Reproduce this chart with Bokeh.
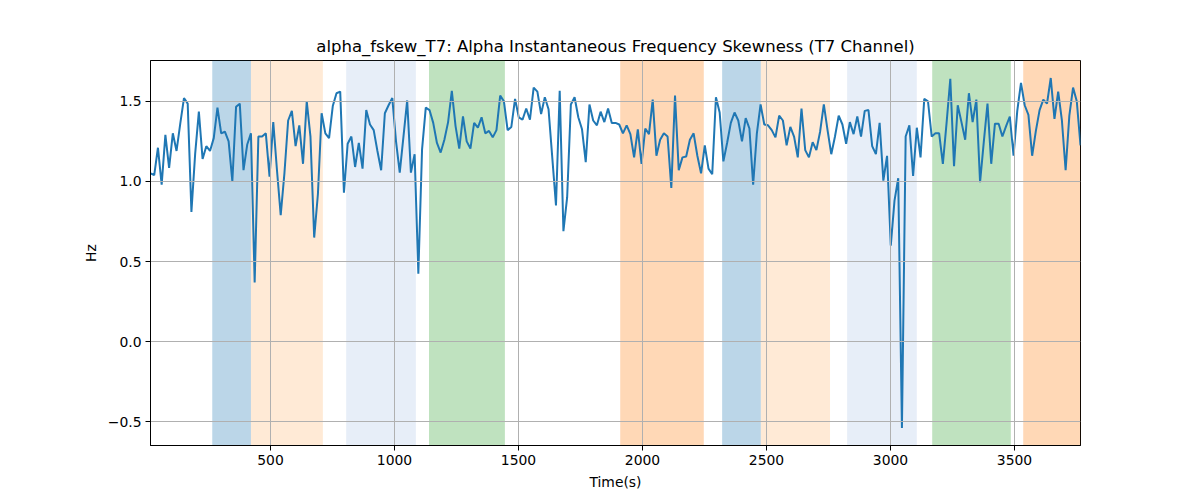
from bokeh.plotting import figure
from bokeh.models import BoxAnnotation, FixedTicker, Range1d, ColumnDataSource
from bokeh.embed import file_html
from bokeh.resources import INLINE

# ---- data ----
t_start = 16
t_step = 15
values = [
    1.05, 1.04, 1.21, 0.98, 1.29, 1.085, 1.30, 1.19, 1.36, 1.52,
    1.485, 0.81, 1.17, 1.435, 1.14, 1.22, 1.19, 1.27, 1.46, 1.30,
    1.31, 1.25, 1.00, 1.465, 1.485, 1.07, 1.23, 1.30, 0.37, 1.28,
    1.28, 1.30, 1.03, 1.37, 1.07, 0.79, 1.05, 1.38, 1.44, 1.22,
    1.35, 1.11, 1.50, 1.28, 0.65, 0.92, 1.425, 1.30, 1.27, 1.47,
    1.55, 1.56, 0.93, 1.235, 1.28, 1.09, 1.24, 1.08, 1.445, 1.355,
    1.32, 1.19, 1.07, 1.425, 1.475, 1.52, 1.25, 1.055, 1.28, 1.505,
    1.055, 1.17, 0.425, 1.20, 1.46, 1.445, 1.365, 1.24, 1.18, 1.26,
    1.37, 1.565, 1.345, 1.205, 1.405, 1.25, 1.205, 1.365, 1.335, 1.40,
    1.30, 1.315, 1.275, 1.32, 1.535, 1.50, 1.32, 1.34, 1.515, 1.40,
    1.385, 1.455, 1.385, 1.585, 1.56, 1.42, 1.525, 1.45, 1.15, 0.85,
    1.565, 0.69, 0.90, 1.48, 1.525, 1.40, 1.325, 1.12, 1.48, 1.38,
    1.35, 1.435, 1.37, 1.455, 1.365, 1.365, 1.355, 1.30, 1.35, 1.295,
    1.15, 1.325, 1.11, 1.33, 1.295, 1.51, 1.16, 1.26, 1.30, 1.28,
    0.96, 1.535, 1.07, 1.15, 1.155, 1.26, 1.30, 1.16, 1.05, 1.225,
    1.08, 1.045, 1.525, 1.43, 1.125, 1.24, 1.365, 1.43, 1.38, 1.25,
    1.395, 1.33, 0.98, 1.30, 1.48, 1.355, 1.35, 1.32, 1.275, 1.41,
    1.38, 1.225, 1.34, 1.28, 1.15, 1.455, 1.195, 1.15, 1.245, 1.195,
    1.31, 1.48, 1.32, 1.17, 1.28, 1.41, 1.355, 1.235, 1.37, 1.295,
    1.405, 1.28, 1.44, 1.445, 1.22, 1.17, 1.365, 1.005, 1.16, 0.60,
    0.88, 1.02, -0.5375, 1.28, 1.35, 1.035, 1.335, 1.15, 1.515, 1.50,
    1.28, 1.30, 1.30, 1.11, 1.365, 1.64, 1.095, 1.475, 1.37, 1.26,
    1.55, 1.37, 1.51, 0.995, 1.245, 1.485, 1.11, 1.36, 1.36, 1.28,
    1.345, 1.405, 1.16, 1.44, 1.615, 1.475, 1.415, 1.16, 1.315, 1.445,
    1.51, 1.485, 1.645, 1.39, 1.56, 1.38, 1.07, 1.41, 1.585, 1.50,
    1.225,
]
times = [t_start + t_step * i for i in range(len(values))]

band_starts = [265, 421, 805, 1139, 1910, 2321, 2477, 2825, 3168, 3535]
band_ends = [421, 711, 1086, 1445, 2247, 2477, 2756, 3106, 3485, 3766]
band_colors = ["#1f77b4", "#ffbb78", "#aec7e8", "#2ca02c", "#ff7f0e",
               "#1f77b4", "#ffbb78", "#aec7e8", "#2ca02c", "#ff7f0e"]

x_ticks = [500, 1000, 1500, 2000, 2500, 3000, 3500]
y_ticks = [-0.5, 0.0, 0.5, 1.0, 1.5]
y_tick_labels = ["\u22120.5", "0.0", "0.5", "1.0", "1.5"]

title_text = "alpha_fskew_T7: Alpha Instantaneous Frequency Skewness (T7 Channel)"

# ---- ranges ----
ymin, ymax = min(values), max(values)
pad = (ymax - ymin) * 0.05
FONT = "DejaVu Sans"

p = figure(width=1200, height=500, output_backend="svg", toolbar_location=None,
           x_range=Range1d(times[0], times[-1]),
           y_range=Range1d(ymin - pad, ymax + pad),
           min_border_left=150, min_border_right=120,
           min_border_top=60, min_border_bottom=55)

p.title.text = title_text
p.title.align = "center"
p.title.text_font = FONT
p.title.text_font_size = "16.5px"
p.title.text_font_style = "normal"
p.title.text_color = "black"

for s, e, c in zip(band_starts, band_ends, band_colors):
    p.add_layout(BoxAnnotation(left=s, right=e, fill_color=c, fill_alpha=0.3,
                               line_alpha=0, level="underlay"))

src = ColumnDataSource(dict(t=times, v=values))
p.line("t", "v", source=src, line_color="#1f77b4", line_width=2)

p.xaxis.ticker = FixedTicker(ticks=x_ticks)
p.yaxis.ticker = FixedTicker(ticks=y_ticks)
p.yaxis.major_label_overrides = {t: l for t, l in zip(y_ticks, y_tick_labels)}
p.xaxis.axis_label = "Time(s)"
p.yaxis.axis_label = "Hz"

for ax in (p.xaxis, p.yaxis):
    ax.axis_label_text_font = FONT
    ax.axis_label_text_font_size = "13.9px"
    ax.axis_label_text_font_style = "normal"
    ax.axis_label_text_color = "black"
    ax.major_label_text_font = FONT
    ax.major_label_text_font_size = "13.9px"
    ax.major_label_text_color = "black"
    ax.major_tick_out = 5
    ax.major_tick_in = 0
    ax.minor_tick_out = 0
    ax.minor_tick_in = 0
    ax.axis_line_color = "black"
    ax.major_tick_line_color = "black"
    ax.major_label_standoff = 4
    ax.axis_label_standoff = 6

p.grid.grid_line_color = "#b0b0b0"
p.grid.grid_line_width = 1
p.grid.level = "glyph"
p.outline_line_color = "black"
p.outline_line_width = 1
p.background_fill_color = "white"
p.border_fill_color = "white"

open("out.html", "w").write(file_html(p, INLINE))
